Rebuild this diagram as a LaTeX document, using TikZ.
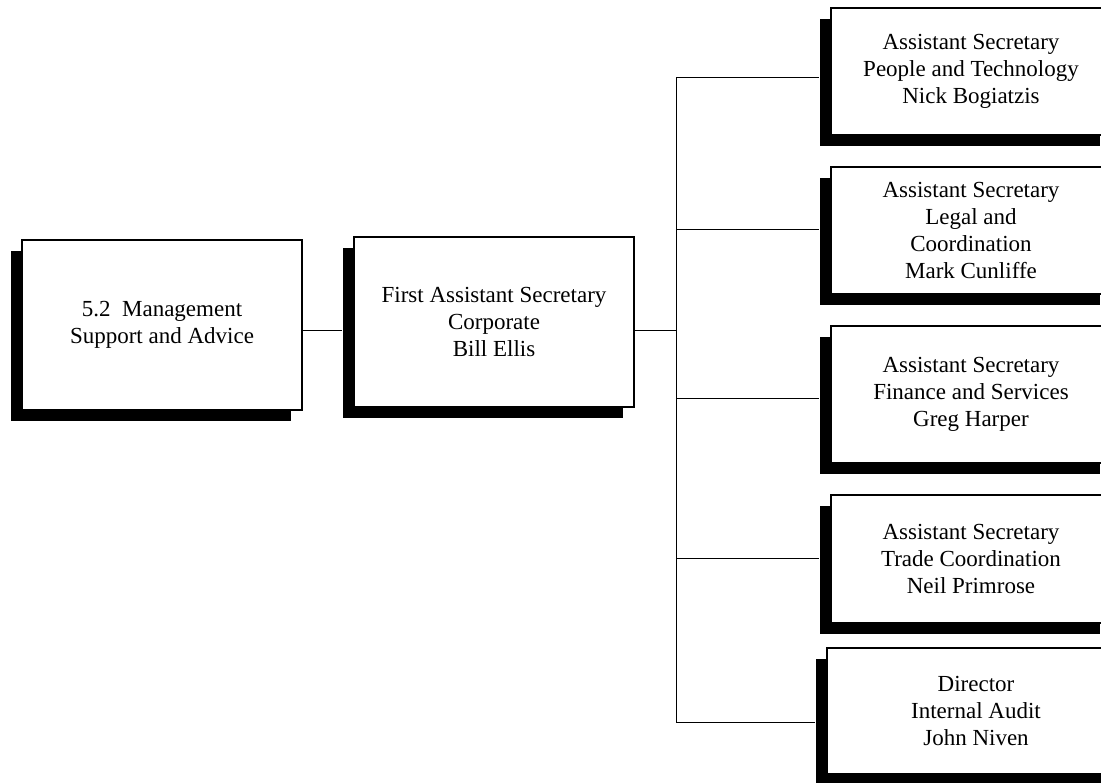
\documentclass[tikz,border=0pt]{standalone}
\usepackage{fontspec}
\setmainfont{Liberation Serif}
\usetikzlibrary{shadows}

\tikzset{
  orgbox/.style={draw, line width=1.2pt, fill=white, align=center, inner sep=0pt,
    minimum width=280pt, font=\fontsize{23}{27}\selectfont,
    drop shadow={shadow xshift=-11pt, shadow yshift=-11pt, opacity=1, fill=black}},
  link/.style={line width=1pt}
}

\begin{document}
\begin{tikzpicture}[x=1pt,y=-1pt]
      \useasboundingbox (0,0) rectangle (1101,783);
      \node [orgbox, minimum height=170pt] (mgmt) at (162,325) {5.2\ \ Management\\Support and Advice};
      \node [orgbox, minimum height=170pt] (first) at (494,322) {First Assistant Secretary\\Corporate\\Bill Ellis};
      \node [orgbox, minimum height=127pt] (ppl) at (971,71.5) {Assistant Secretary\\People and Technology\\Nick Bogiatzis};
      \node [orgbox, minimum height=127pt] (legal) at (971,230.5) {Assistant Secretary\\Legal and\\Coordination\\Mark Cunliffe};
      \node [orgbox, minimum height=137pt] (fin) at (971,394.5) {Assistant Secretary\\Finance and Services\\Greg Harper};
      \node [orgbox, minimum height=128pt] (trade) at (971,559) {Assistant Secretary\\Trade Coordination\\Neil Primrose};
      \node [orgbox, minimum height=126pt, minimum width=298pt] (dir) at (976,711) {Director\\Internal Audit\\John Niven};
      \coordinate (fork) at (676,331);
      \draw [link] (mgmt.east |- fork) -- ([xshift=-11pt]first.west |- fork);
      \draw [link] (first.east |- fork) -- (fork);
      \foreach \n/\y in {ppl/78, legal/230, fin/399, trade/558, dir/722}
      {
        \coordinate (b-\n) at (676,\y);
        \draw [link] (b-\n) -- ([xshift=-11pt]\n.west |- b-\n);
      }
      \draw [link] (b-ppl) -- (b-dir);
    \end{tikzpicture}
\end{document}
